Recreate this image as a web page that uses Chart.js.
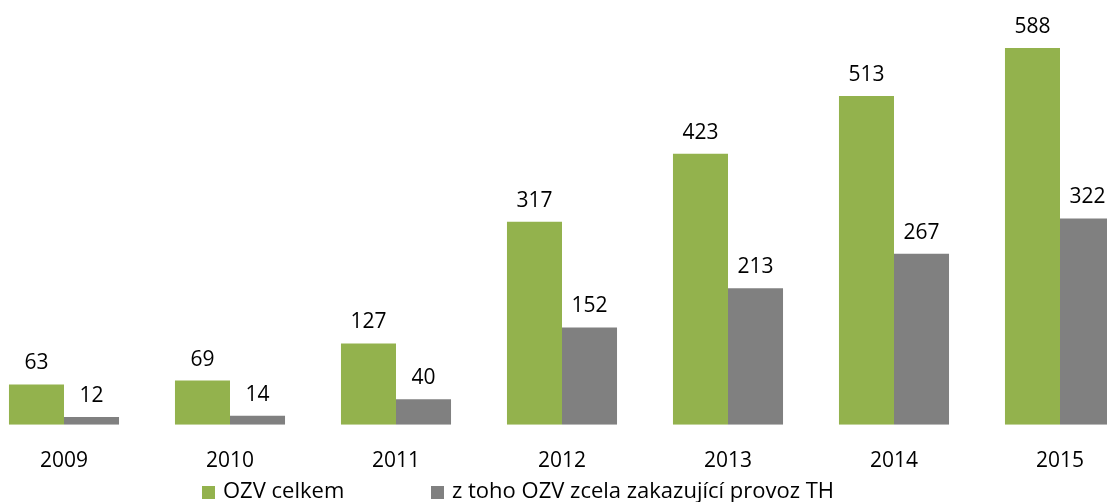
<!DOCTYPE html>
<html>
<head>
<meta charset="utf-8">
<title>OZV</title>
<script src="https://cdn.jsdelivr.net/npm/chart.js@4"></script>
<style>
  html, body { margin: 0; padding: 0; background: #fff; }
  body { width: 1107px; height: 502px; overflow: hidden; position: relative; font-family: "Open Sans", sans-serif; }
  #wrap { position: absolute; left: -19px; top: 0; width: 1162px; height: 502px; }
  .legend { position: absolute; top: 476px; height: 26px; font-size: 22px; line-height: 26px; color: #000; white-space: nowrap; }
  .legend span.box { display: inline-block; width: 13px; height: 13px; margin-right: 8px; vertical-align: -1px; }
</style>
</head>
<body>
<div id="wrap"><canvas id="chart" width="1162" height="502"></canvas></div>
<div class="legend" style="left:202px"><span class="box" style="background:#93b24d"></span>OZV celkem</div>
<div class="legend" style="left:431px"><span class="box" style="background:#808080"></span>z toho OZV zcela zakazující provoz TH</div>
<script>
// chart data
var years = ['2009', '2010', '2011', '2012', '2013', '2014', '2015'];
var ozvTotal = [63, 69, 127, 317, 423, 513, 588];
var ozvBanned = [12, 14, 40, 152, 213, 267, 322];
var seriesNames = ['OZV celkem', 'z toho OZV zcela zakazující provoz TH'];

var fontFamily = '"Open Sans", sans-serif';

// draws the value above every bar
var valueLabels = {
    id: 'valueLabels',
    afterDatasetsDraw: function(chart) {
        var ctx = chart.ctx;
        ctx.save();
        ctx.font = '21px ' + fontFamily;
        ctx.fillStyle = '#000';
        ctx.textAlign = 'center';
        ctx.textBaseline = 'alphabetic';
        chart.data.datasets.forEach(function(ds, i) {
            chart.getDatasetMeta(i).data.forEach(function(bar, j) {
                ctx.fillText(ds.data[j], bar.x, bar.y - 15);
            });
        });
        ctx.restore();
    }
};

function initChart() {
    var ctx = document.getElementById('chart').getContext('2d');
    window.myChart = new Chart(ctx, {
        type: 'bar',
        data: {
            labels: years,
            datasets: [
                { label: seriesNames[0], data: ozvTotal, backgroundColor: '#93b24d' },
                { label: seriesNames[1], data: ozvBanned, backgroundColor: '#808080' }
            ]
        },
        options: {
            responsive: false,
            animation: false,
            devicePixelRatio: 1,
            layout: { padding: { top: 0, left: 0, right: 0, bottom: 4 } },
            datasets: { bar: { categoryPercentage: 0.663, barPercentage: 1.0 } },
            plugins: { legend: { display: false }, tooltip: { enabled: false } },
            scales: {
                x: {
                    grid: { display: false, drawTicks: false },
                    border: { display: false },
                    ticks: { color: '#000', padding: 24, font: { family: fontFamily, size: 21 } }
                },
                y: { display: false, min: 0, max: 663 }
            }
        },
        plugins: [valueLabels]
    });
}

initChart();
</script>
</body>
</html>
